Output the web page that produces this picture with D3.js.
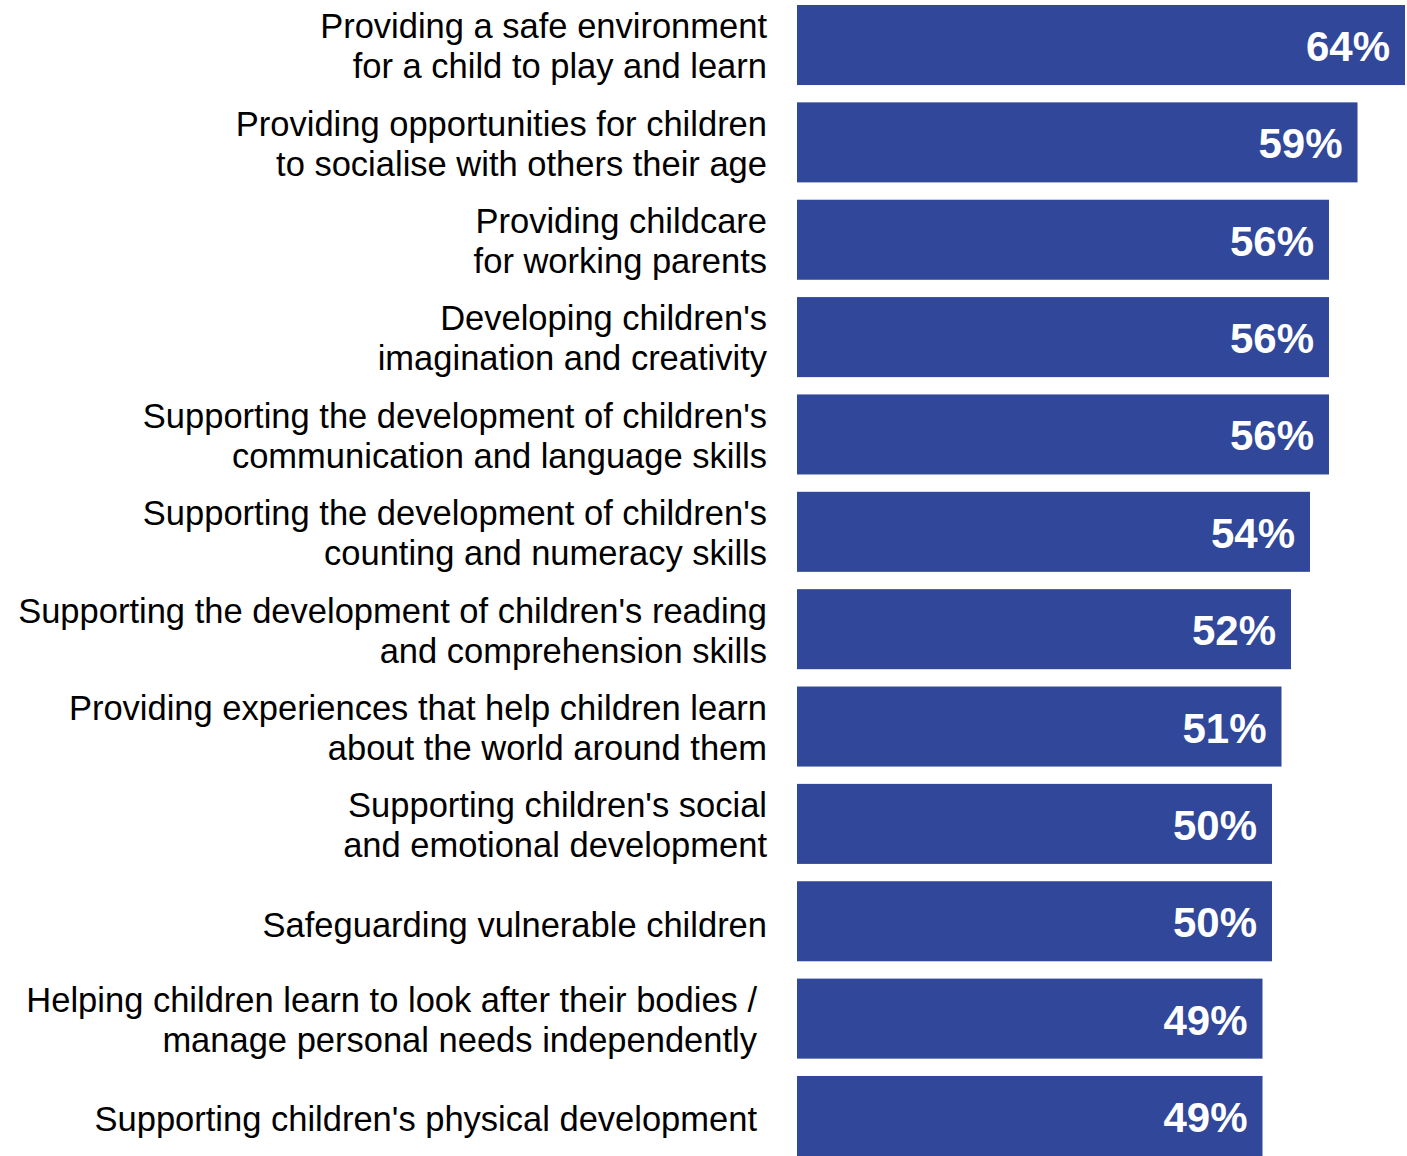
<!DOCTYPE html>
<html><head><meta charset="utf-8">
<script src="https://cdn.jsdelivr.net/npm/d3@7/dist/d3.min.js"></script>
<style>body{margin:0;background:#fff;} svg{display:block;}</style>
</head><body>
<svg id="chart" width="1407" height="1156"></svg>
<script>
const categories = [
  ["Providing a safe environment", "for a child to play and learn"],
  ["Providing opportunities for children", "to socialise with others their age"],
  ["Providing childcare", "for working parents"],
  ["Developing children's", "imagination and creativity"],
  ["Supporting the development of children's", "communication and language skills"],
  ["Supporting the development of children's", "counting and numeracy skills"],
  ["Supporting the development of children's reading", "and comprehension skills"],
  ["Providing experiences that help children learn", "about the world around them"],
  ["Supporting children's social", "and emotional development"],
  ["Safeguarding vulnerable children"],
  ["Helping children learn to look after their bodies /", "manage personal needs independently"],
  ["Supporting children's physical development"]
];
const values = [64, 59, 56, 56, 56, 54, 52, 51, 50, 50, 49, 49];
const valueLabels = ["64%", "59%", "56%", "56%", "56%", "54%", "52%", "51%", "50%", "50%", "49%", "49%"];

const svg = d3.select("#chart");
const x = d3.scaleLinear().domain([0, 64]).range([797, 1405]);
const y = d3.scaleBand().domain(d3.range(values.length)).range([5, 1156]).paddingInner(0.178).paddingOuter(0);

svg.selectAll("rect.bar").data(values).join("rect")
  .attr("class", "bar")
  .attr("x", x(0))
  .attr("y", (d, i) => y(i))
  .attr("width", d => x(d) - x(0))
  .attr("height", y.bandwidth())
  .attr("fill", "#30479A");

svg.selectAll("text.val").data(values).join("text")
  .attr("class", "val")
  .attr("x", d => x(d) - 15)
  .attr("y", (d, i) => y(i) + y.bandwidth() / 2 + 1)
  .attr("dy", "0.358em")
  .attr("text-anchor", "end")
  .attr("fill", "#fff")
  .attr("font-family", "'Liberation Sans', Arial, sans-serif")
  .attr("font-weight", "bold")
  .attr("font-size", 42)
  .text((d, i) => valueLabels[i]);

const labelG = svg.selectAll("g.lab").data(categories).join("g").attr("class", "lab");
labelG.each(function(lines, i) {
  const g = d3.select(this);
  const cy = y(i) + y.bandwidth() / 2;
  const xr = i >= 10 ? 757 : 767;
  lines.forEach((t, j) => {
    const off = (j - (lines.length - 1) / 2) * 40;
    g.append("text")
      .attr("x", xr)
      .attr("y", cy + off + (lines.length === 1 ? 3 : 1))
      .attr("dy", "0.358em")
      .attr("text-anchor", "end")
      .attr("font-family", "'Liberation Sans', Arial, sans-serif")
      .attr("font-size", 34.5)
      .attr("fill", "#000")
      .text(t);
  });
});
</script>
</body></html>
